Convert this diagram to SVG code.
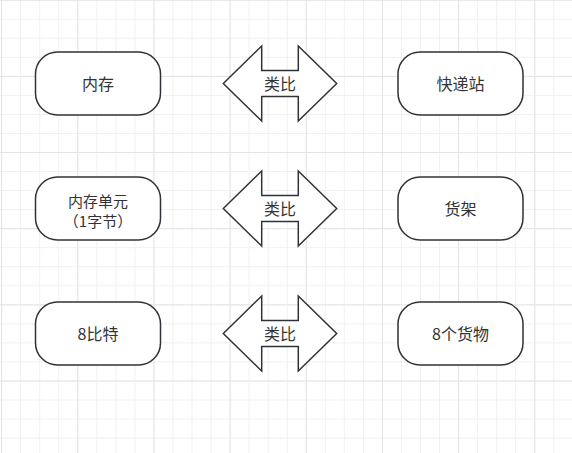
<svg xmlns="http://www.w3.org/2000/svg" width="572" height="453" viewBox="0 0 572 453">
  <defs>
    <pattern id="minor" patternUnits="userSpaceOnUse" x="1.14" y="-0.3" width="19.04" height="19.04">
      <path d="M0.5 0 V19.04 M0 0.5 H19.04" fill="none" stroke="#f0f0f0" stroke-width="1"/>
    </pattern>
    <pattern id="major" patternUnits="userSpaceOnUse" x="1.14" y="-0.3" width="76.16" height="76.16">
      <path d="M0.5 0 V76.16 M0 0.5 H76.16" fill="none" stroke="#e4e4e4" stroke-width="1"/>
    </pattern>
    <path id="dblarrow" d="M-56.7 0 L-18.3 -37.5 L-18.3 -13 L18.3 -13 L18.3 -37.5 L56.7 0 L18.3 37.5 L18.3 13 L-18.3 13 L-18.3 37.5 Z"/>
  </defs>
  <style>
    .node { fill: #ffffff; stroke: #2f3337; stroke-width: 1.5; }
    .arrow { fill: #ffffff; stroke: #2f3337; stroke-width: 1.5; stroke-linejoin: miter; }
    .label { font-family: "Noto Sans CJK SC", "Noto Sans", sans-serif; font-size: 16px; fill: #333333; text-anchor: middle; }
    .small { font-size: 15px; }
  </style>
  <rect width="572" height="453" fill="#ffffff"/>
  <rect width="572" height="453" fill="url(#minor)"/>
  <rect width="572" height="453" fill="url(#major)"/>

  <g id="connectors">
    <g id="analogy1">
      <use href="#dblarrow" class="arrow" transform="translate(280 83.5)"/>
      <text class="label" x="280" y="89.5">类比</text>
    </g>
    <g id="analogy2">
      <use href="#dblarrow" class="arrow" transform="translate(280 208.5)"/>
      <text class="label" x="280" y="214.5">类比</text>
    </g>
    <g id="analogy3">
      <use href="#dblarrow" class="arrow" transform="translate(280 333.5)"/>
      <text class="label" x="280" y="339.5">类比</text>
    </g>
  </g>

  <g id="memory">
    <rect class="node" x="35.5" y="52" width="125" height="63" rx="22" ry="22"/>
    <text class="label" x="98" y="90">内存</text>
  </g>
  <g id="station">
    <rect class="node" x="398" y="52" width="125" height="63" rx="22" ry="22"/>
    <text class="label" x="460.5" y="90">快递站</text>
  </g>
  <g id="memory-unit">
    <rect class="node" x="35.5" y="177" width="125" height="63" rx="22" ry="22"/>
    <text class="label small" x="98" y="206.5"><tspan x="98">内存单元</tspan><tspan x="98" dy="20.5">（1字节）</tspan></text>
  </g>
  <g id="shelf">
    <rect class="node" x="398" y="177" width="125" height="63" rx="22" ry="22"/>
    <text class="label" x="460.5" y="215">货架</text>
  </g>
  <g id="bits">
    <rect class="node" x="35.5" y="302" width="125" height="63" rx="22" ry="22"/>
    <text class="label" x="98" y="340">8比特</text>
  </g>
  <g id="goods">
    <rect class="node" x="398" y="302" width="125" height="63" rx="22" ry="22"/>
    <text class="label" x="460.5" y="340">8个货物</text>
  </g>
</svg>
